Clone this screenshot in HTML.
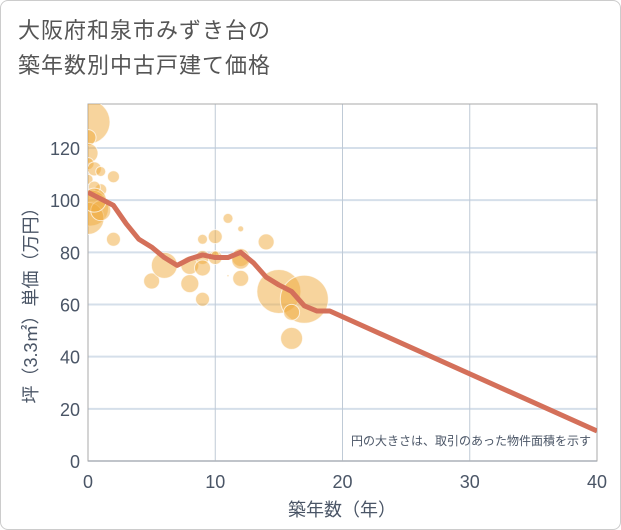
<!DOCTYPE html>
<html><head><meta charset="utf-8"><style>
body{margin:0;background:#fff;}
#wrap{position:relative;width:619px;height:528px;border:1px solid #ccc;border-radius:8px;background:#fff;overflow:hidden;font-family:"Liberation Sans","Noto Sans CJK JP",sans-serif;}
#title{position:absolute;left:17px;top:12px;font-size:22px;line-height:35px;color:#555;letter-spacing:1px;}
svg{position:absolute;left:0;top:0;}
</style></head><body>
<div id="wrap">
<div id="title">大阪府和泉市みずき台の<br>築年数別中古戸建て価格</div>
<svg id="chart" width="621" height="530"></svg>
</div>
<script>
const xTicks=[0,10,20,30,40];
const yTicks=[0,20,40,60,80,100,120];
const lineX=[0,2,3,4,5,6,7,8,9,10,11,12,13,14,15,16,17,18,19,40];
const lineY=[103,98,91,85,82,78,75,77.5,79,78,78,80,76,70.5,67.5,65,59.5,57.5,57.5,11.5];
const bubX=[0,0,0,0,0,0.5,1,1,0.5,0.2,0,1,2,0.5,2,5,6,8,8,9,9,9,9,10,10,11,12,12,12,12,14,15,17,16,16,11,10];
const bubY=[130,124,118,114,108,112,111,104,105,97,93,96,109,100,85,69,75,68,75,78,74,62,85,86,78,93,89,78,70,77,84,65,62,57,47,71,79];
const bubR=[22,8,10,6,5,7,5,6,6,18,16,10,6,12,7,8,13,9,9,7,8,7,5,7,7,5,3,9,8,9,8,22,24,8,11,1,4];
const ns="http://www.w3.org/2000/svg";
const svg=document.getElementById('chart');
const L=87,R=596,T=103,B=460;
const xs=v=>L+(R-L)*v/40;
const ys=v=>B-(B-147)*v/120;
const tc='#4a5566';
function mk(t,a){const e=document.createElementNS(ns,t);for(const k in a)e.setAttribute(k,a[k]);svg.appendChild(e);return e;}
const clip=mk('clipPath',{id:'pc'});
const cr=document.createElementNS(ns,'rect');cr.setAttribute('x',L);cr.setAttribute('y',T);cr.setAttribute('width',R-L);cr.setAttribute('height',B-T);clip.appendChild(cr);
yTicks.forEach(v=>{const g=mk('line',{x1:L,x2:R,y1:ys(v),y2:ys(v),stroke:'#d5dfea','stroke-width':2});


const t=mk('text',{x:L-8,y:ys(v)+7,'text-anchor':'end','font-size':18,fill:tc});t.textContent=v;

});
xTicks.forEach(v=>{const g=mk('line',{x1:xs(v),x2:xs(v),y1:T,y2:B,stroke:'#bfcad6','stroke-width':1});


const t=mk('text',{x:xs(v),y:B+27,'text-anchor':'middle','font-size':18,fill:tc});t.textContent=v;

});
const fr=mk('rect',{x:L,y:T,width:R-L,height:B-T,fill:'none',stroke:'#aaa','stroke-width':1});


bubX.forEach((x,i)=>{const c=mk('circle',{cx:xs(x),cy:ys(bubY[i]),r:bubR[i],fill:'rgba(240,170,60,0.5)',stroke:'rgba(255,255,255,0.7)','stroke-width':1,'clip-path':'url(#pc)'});

});
const p=mk('polyline',{points:lineX.map((x,i)=>xs(x)+','+ys(lineY[i])).join(' '),fill:'none',stroke:'#d4705a','stroke-width':5,'stroke-linejoin':'round','clip-path':'url(#pc)'});


const n=mk('text',{x:590,y:444,'text-anchor':'end','font-size':12,fill:tc});n.textContent='円の大きさは、取引のあった物件面積を示す';


const xt=mk('text',{x:341,y:515,'text-anchor':'middle','font-size':18,fill:tc});xt.textContent='築年数（年）';


const yt=mk('text',{x:0,y:0,'text-anchor':'middle','font-size':18,fill:tc,transform:'translate(36,300) rotate(-90)'});yt.textContent='坪（3.3㎡）単価（万円）';


</script>
</body></html>
